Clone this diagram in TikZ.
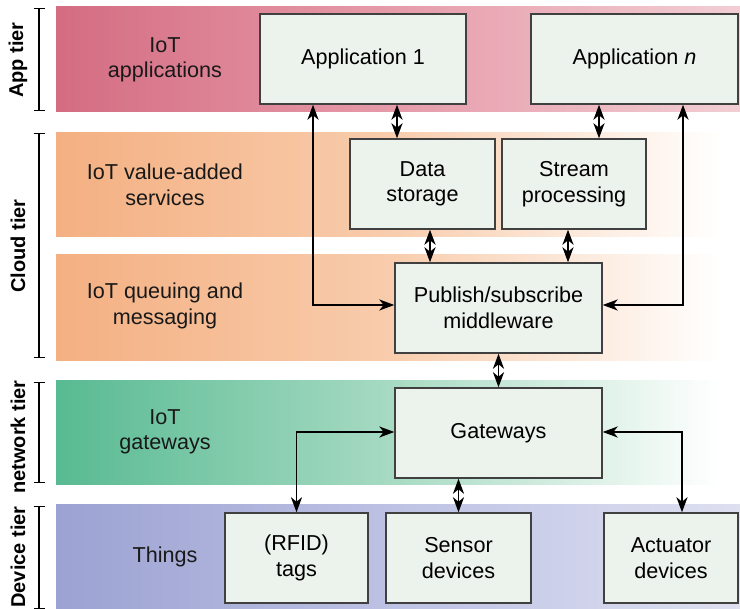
\documentclass[tikz,border=0pt]{standalone}
\usepackage{fontspec}
\setmainfont{Liberation Sans}
\usetikzlibrary{positioning,arrows.meta}

\definecolor{appL}{RGB}{212,108,130}
\definecolor{appM}{RGB}{230,156,170}
\definecolor{appR}{RGB}{242,206,212}
\definecolor{cloudL}{RGB}{244,176,130}
\definecolor{cloudM}{RGB}{248,204,172}
\definecolor{netL}{RGB}{88,186,146}
\definecolor{netM}{RGB}{166,218,194}
\definecolor{devL}{RGB}{156,162,210}
\definecolor{devM}{RGB}{190,194,228}
\definecolor{devR}{RGB}{222,224,240}
\definecolor{boxfill}{RGB}{236,242,236}

\begin{document}
\begin{tikzpicture}[x=0.5pt,y=-0.5pt]
\tikzset{
    box/.style={rectangle, draw=black!75, line width=0.7pt, fill=boxfill, minimum height=45pt, align=center, inner sep=2pt, font=\fontsize{10.8}{12.8}\selectfont},
    bandtext/.style={align=center, text=black!90, font=\fontsize{10.8}{12.8}\selectfont},
    tier/.style={rotate=90, font=\bfseries\fontsize{10}{12}\selectfont},
    bracket/.style={line width=0.7pt, {Bar[width=5.5pt]}-{Bar[width=5.5pt]}},
    arrow/.style={{Stealth[length=7.5pt,width=5.5pt,inset=2.2pt]}-{Stealth[length=7.5pt,width=5.5pt,inset=2.2pt]}, line width=0.9pt}
}
\useasboundingbox (0,0) rectangle (740,609);

% tier bands
\shade[left color=appL, right color=appR, middle color=appM] (56,7) rectangle (740,112);
\shade[left color=cloudL, right color=white, middle color=cloudM] (56,133) rectangle (720,237);
\shade[left color=cloudL, right color=white, middle color=cloudM] (56,255) rectangle (720,361);
\shade[left color=netL, right color=white, middle color=netM] (56,381) rectangle (720,485);
\shade[left color=devL, right color=devR, middle color=devM] (56,505) rectangle (740,609);

% tier labels
\node[tier] (apptier) at (18,60) {App tier};
\node[tier] (cloudtier) at (18,246) {Cloud tier};
\node[tier] (nettier) at (18,437) {network tier};
\node[tier] (devtier) at (18,557) {Device tier};
\draw[bracket] (39,8) -- (39,111);
\draw[bracket] (39,133) -- (39,358);
\draw[bracket] (39,382) -- (39,483);
\draw[bracket] (39,506) -- (39,609);

% band texts
\node[bandtext] (iotapp) at (165,60) {IoT\\applications};
\node[bandtext] (iotvas) at (165,185) {IoT value-added\\services};
\node[bandtext] (iotqm) at (165,306) {IoT queuing and\\messaging};
\node[bandtext] (iotgw) at (165,432) {IoT\\gateways};
\node[bandtext] (things) at (165,557) {Things};

% boxes
\node[box, minimum width=103pt] (app1) at (363,59) {Application 1};
\node[box, minimum width=103.5pt] (appn) at (634.5,59) {Application \textit{n}};
\node[box, minimum width=72.5pt] (store) at (422.5,184) {Data\\storage};
\node[box, minimum width=72pt] (stream) at (574,184) {Stream\\processing};
\node[box, minimum width=103.5pt] (pubsub) at (498.5,308) {Publish/subscribe\\middleware};
\node[box, minimum width=103.5pt] (gw) at (498.5,433) {Gateways};
\node[box, minimum width=71.5pt] (rfid) at (296.5,558) {(RFID)\\tags};
\node[box, minimum width=72.5pt] (sensor) at (458.5,558) {Sensor\\devices};
\node[box, minimum width=67pt] (actuator) at (671,558) {Actuator\\devices};

% connectors
\draw[arrow] ([xshift=-12.75pt]store.north) -- ([xshift=-12.75pt]store.north |- app1.south);
\draw[arrow] ([xshift=12.5pt]stream.north) -- ([xshift=12.5pt]stream.north |- appn.south);
\draw[arrow] ([xshift=3.75pt]store.south) -- ([xshift=3.75pt]store.south |- pubsub.north);
\draw[arrow] ([xshift=-3pt]stream.south) -- ([xshift=-3pt]stream.south |- pubsub.north);
\draw[arrow] ([xshift=-25pt]app1.south) |- ([yshift=1.5pt]pubsub.west);
\draw[arrow] ([xshift=24.25pt]appn.south) |- ([yshift=1.5pt]pubsub.east);
\draw[arrow] (pubsub.south) -- (gw.north);
\draw[arrow] ([yshift=0.5pt]gw.west) -| (rfid.north);
\draw[arrow] (gw.south -| sensor.north) -- (sensor.north);
\draw[arrow] ([yshift=0.5pt]gw.east) -| ([xshift=5.5pt]actuator.north);
\end{tikzpicture}
\end{document}
